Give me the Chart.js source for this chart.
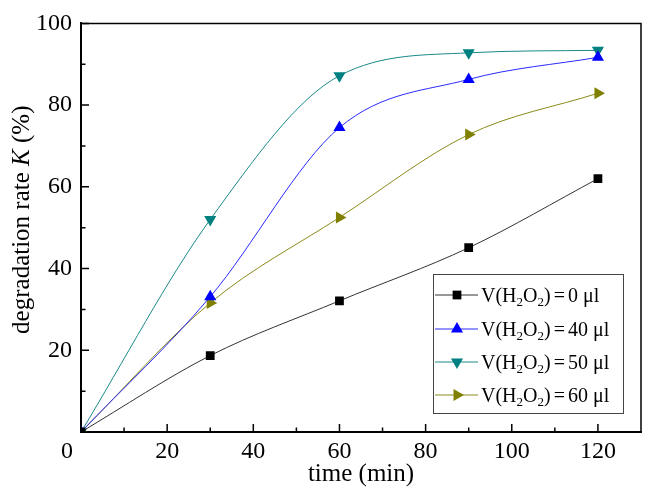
<!DOCTYPE html>
<html>
<head>
<meta charset="utf-8">
<script src="https://cdn.jsdelivr.net/npm/chart.js@4"></script>
<style>
  html, body { margin: 0; padding: 0; background: #fff; }
  #wrap { width: 648px; height: 490px; }
</style>
</head>
<body>
<div id="wrap"><canvas id="chart" width="648" height="490"></canvas></div>
<script>
// reaction time (min)
const times = [0, 30, 60, 90, 120];

// degradation rate K (%) for each H2O2 volume
const volumes = [0, 40, 50, 60];
const rate0 = [0, 18.7, 32.1, 45.1, 62.0];
const rate40 = [0, 33.1, 74.5, 86.3, 91.7];
const rate50 = [0, 52.0, 87.2, 92.8, 93.4];
const rate60 = [0, 31.6, 52.5, 72.8, 82.9];

// axis ticks
const xTicks = [0, 20, 40, 60, 80, 100, 120];
const xMinorTicks = [10, 30, 50, 70, 90, 110];
const yTicks = [0, 20, 40, 60, 80, 100];
const yMinorTicks = [10, 30, 50, 70, 90];

const serif = "'Liberation Serif', 'DejaVu Serif', serif";

function toPoints(ys) {
	return times.map((t, i) => ({ x: t, y: ys[i] }));
}

const seriesStyle = [
	{ color: '#000000', line: '#333333', point: 'rect', rotation: 0, radius: 6.2 },
	{ color: '#0000ff', line: '#2a2aff', point: 'triangle', rotation: 0, radius: 7 },
	{ color: '#008080', line: '#1a8a8a', point: 'triangle', rotation: 180, radius: 7 },
	{ color: '#808000', line: '#8a8a1a', point: 'triangle', rotation: 90, radius: 7 }
];

const rates = [rate0, rate40, rate50, rate60];

const datasets = rates.map((r, i) => ({
	label: 'V(H₂O₂) = ' + volumes[i] + ' μl',
	data: toPoints(r),
	borderColor: seriesStyle[i].line,
	backgroundColor: seriesStyle[i].color,
	borderWidth: 1,
	pointStyle: seriesStyle[i].point,
	pointRotation: seriesStyle[i].rotation,
	pointRadius: seriesStyle[i].radius,
	pointBorderWidth: 0,
	cubicInterpolationMode: 'monotone'
}));

// frame, inward ticks, shared "0", y title and the boxed legend
const decorations = {
	id: 'decorations',
	afterDraw(chart) {
		const ctx = chart.ctx;
		const a = chart.chartArea;
		const xs = chart.scales.x;
		const ys = chart.scales.y;
		ctx.save();

		// top and right frame
		ctx.strokeStyle = '#000';
		ctx.lineWidth = 1.5;
		ctx.beginPath();
		ctx.moveTo(a.left, a.top);
		ctx.lineTo(a.right, a.top);
		ctx.lineTo(a.right, a.bottom);
		ctx.stroke();

		// inward ticks
		ctx.lineWidth = 1.5;
		ctx.beginPath();
		xTicks.forEach(v => {
			const px = xs.getPixelForValue(v);
			ctx.moveTo(px, a.bottom); ctx.lineTo(px, a.bottom - 8);
		});
		xMinorTicks.forEach(v => {
			const px = xs.getPixelForValue(v);
			ctx.moveTo(px, a.bottom); ctx.lineTo(px, a.bottom - 4.5);
		});
		yTicks.forEach(v => {
			const py = ys.getPixelForValue(v);
			ctx.moveTo(a.left, py); ctx.lineTo(a.left + 8, py);
		});
		yMinorTicks.forEach(v => {
			const py = ys.getPixelForValue(v);
			ctx.moveTo(a.left, py); ctx.lineTo(a.left + 4.5, py);
		});
		ctx.stroke();

		// shared origin label
		ctx.fillStyle = '#000';
		ctx.font = '24px ' + serif;
		ctx.textAlign = 'center';
		ctx.textBaseline = 'middle';
		ctx.fillText('0', xs.getPixelForValue(0) - 14, ys.getPixelForValue(0) + 20);

		// y axis title with italic K
		const parts = [
			{ t: 'degradation rate ', f: '25px ' + serif },
			{ t: 'K', f: 'italic 25px ' + serif },
			{ t: ' (%)', f: '25px ' + serif }
		];
		let total = 0;
		parts.forEach(p => { ctx.font = p.f; p.w = ctx.measureText(p.t).width; total += p.w; });
		ctx.translate(22, (a.top + a.bottom) / 2 - 8);
		ctx.rotate(-Math.PI / 2);
		ctx.textAlign = 'left';
		let cx = -total / 2;
		parts.forEach(p => { ctx.font = p.f; ctx.fillText(p.t, cx, 0); cx += p.w; });
		ctx.setTransform(1, 0, 0, 1, 0, 0);

		// legend box
		const box = { left: 433, top: 274, right: 623, bottom: 413 };
		ctx.strokeStyle = '#444';
		ctx.lineWidth = 1;
		ctx.strokeRect(box.left + 0.5, box.top + 0.5, box.right - box.left, box.bottom - box.top);
		const rowY = [295, 329, 362, 395];
		chart.data.datasets.forEach((ds, i) => {
			const y = rowY[i];
			ctx.strokeStyle = ds.borderColor;
			ctx.lineWidth = 1;
			ctx.beginPath();
			ctx.moveTo(435, y); ctx.lineTo(478, y);
			ctx.stroke();
			ctx.fillStyle = ds.backgroundColor;
			Chart.helpers.drawPoint(ctx, {
				pointStyle: ds.pointStyle,
				rotation: ds.pointRotation,
				radius: ds.pointRadius,
				borderWidth: 0
			}, 457, y);
			ctx.fillStyle = '#000';
			ctx.textAlign = 'left';
			ctx.textBaseline = 'alphabetic';
			const base = y + 7;
			const pieces = [
				{ t: 'V(H' },
				{ t: '2', sub: true },
				{ t: 'O' },
				{ t: '2', sub: true },
				{ t: ')', gap: 3 },
				{ t: '=', gap: 3 },
				{ t: String(volumes[i]), gap: 5 },
				{ t: 'μl' }
			];
			let tx = 481;
			pieces.forEach(p => {
				ctx.font = (p.sub ? '13px ' : '20px ') + serif;
				ctx.fillText(p.t, tx, p.sub ? base + 4 : base);
				tx += ctx.measureText(p.t).width + (p.gap || 0);
			});
		});
		ctx.restore();
	}
};

new Chart(document.getElementById('chart'), {
	type: 'line',
	data: { datasets: datasets },
	options: {
		responsive: false,
		animation: false,
		layout: { padding: { top: 11, right: 1, left: 0, bottom: 0 } },
		plugins: {
			legend: { display: false },
			tooltip: { enabled: false }
		},
		scales: {
			x: {
				type: 'linear',
				min: 0,
				max: 130,
				afterBuildTicks: scale => { scale.ticks = xTicks.map(v => ({ value: v })); },
				afterFit: scale => { scale.height = 58; },
				grid: { display: false, drawTicks: false },
				border: { display: true, color: '#000', width: 2 },
				ticks: {
					color: '#000',
					padding: 5,
					font: { family: serif, size: 24 },
					callback: v => (v === 0 ? '' : v)
				},
				title: {
					display: true,
					text: 'time (min)',
					color: '#000',
					font: { family: serif, size: 25 },
					padding: { top: 0, bottom: 1 }
				}
			},
			y: {
				min: 0,
				max: 100,
				afterBuildTicks: scale => { scale.ticks = yTicks.map(v => ({ value: v })); },
				afterFit: scale => { scale.width = 81; },
				grid: { display: false, drawTicks: false },
				border: { display: true, color: '#000', width: 2 },
				ticks: {
					color: '#000',
					padding: 9,
					font: { family: serif, size: 24 },
					callback: v => (v === 0 ? '' : v)
				}
			}
		}
	},
	plugins: [decorations]
});
</script>
</body>
</html>
